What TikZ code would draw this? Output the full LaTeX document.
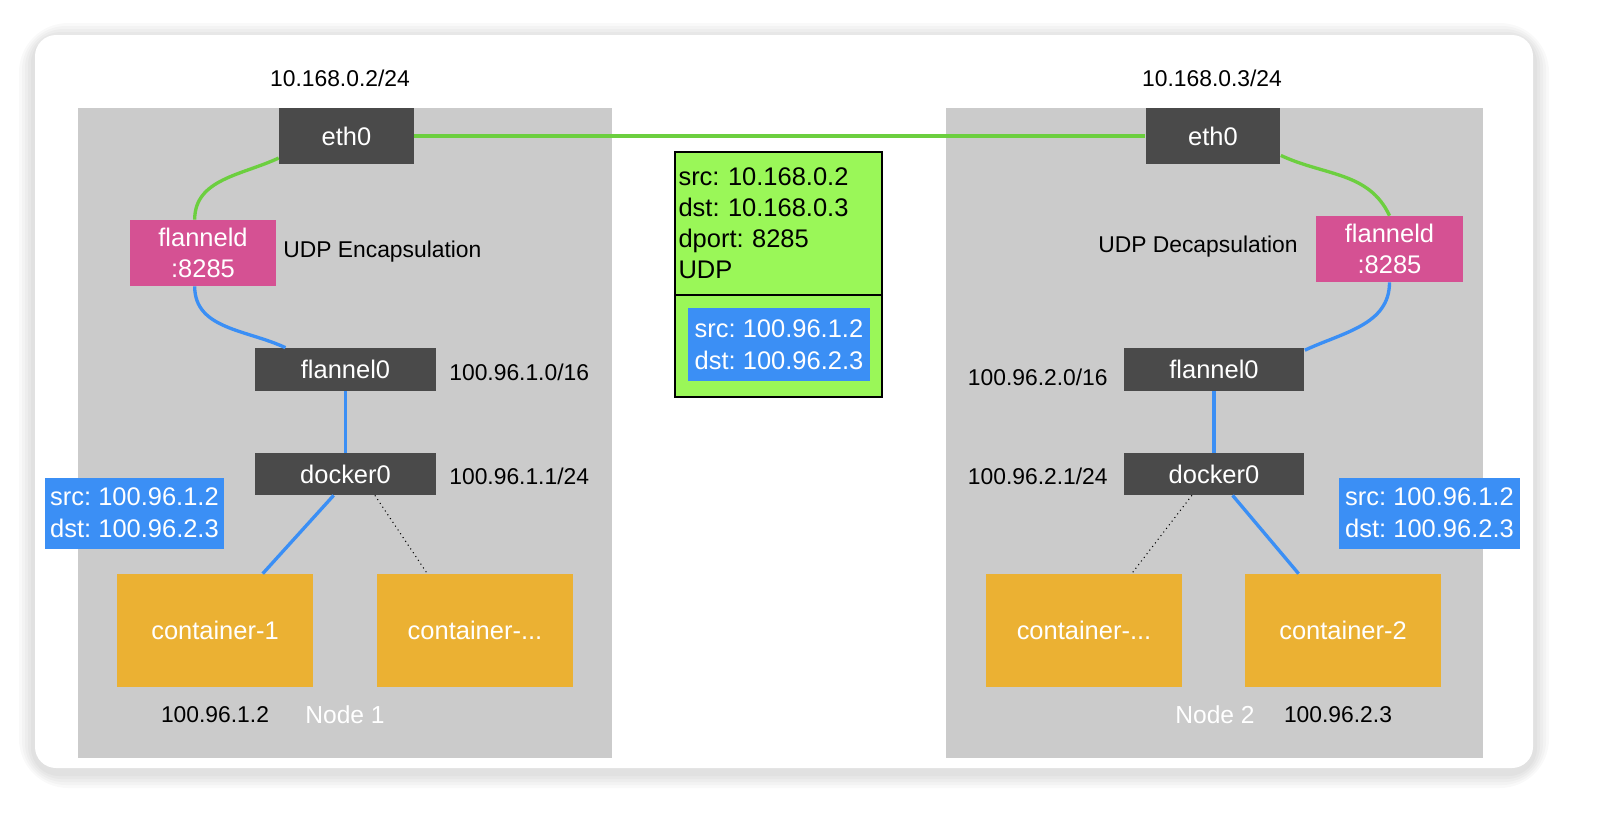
\documentclass[tikz,border=0pt]{standalone}
\usepackage{fontspec}
\setmainfont{Liberation Sans}
\frenchspacing
\definecolor{panelgray}{HTML}{CBCBCB}
\definecolor{devgray}{HTML}{4A4A4A}
\definecolor{fldpink}{HTML}{D55193}
\definecolor{ctrorange}{HTML}{EBB133}
\definecolor{pktblue}{HTML}{3B8FF5}
\definecolor{lnkgreen}{HTML}{6CCF3F}
\definecolor{hdrgreen}{HTML}{9AF758}
\tikzset{%
    dev/.style={rectangle,fill=devgray,text=white,font=\fontsize{14.5}{17}\selectfont,
        minimum width=3.62cm,minimum height=0.86cm,inner sep=0pt},
    fld/.style={rectangle,fill=fldpink,text=white,font=\fontsize{14.5}{17.5}\selectfont,
        align=center,minimum width=2.92cm,minimum height=1.32cm,inner sep=0pt},
    ctr/.style={rectangle,fill=ctrorange,text=white,font=\fontsize{14.5}{17}\selectfont,
        minimum width=3.92cm,minimum height=2.26cm,inner sep=0pt},
    pkt/.style={rectangle,fill=pktblue,text=white,font=\fontsize{14.5}{18}\selectfont,
        align=left,minimum width=3.6cm,minimum height=1.42cm,inner sep=0pt},
    lbl/.style={font=\fontsize{13}{15}\selectfont,inner sep=0pt},
    lnk/.style={line width=1.9pt,draw=lnkgreen},
    tun/.style={line width=1.9pt,draw=pktblue},
    dots/.style={line width=0.6pt,dotted}
}

\begin{document}
\begin{tikzpicture}[x=0.02cm,y=-0.02cm]
    \useasboundingbox (0,0) rectangle (1610,826);
    \fill[white] (0,0) rectangle (1610,826);
    % soft shadow of the card
    \foreach \s in {16,13,10,7,4}
        \fill[black,opacity=0.025,rounded corners=12+\s] (35-\s,35-\s+4) rectangle (1533+\s,768+\s+4);
    \fill[white,rounded corners=12] (35,35) rectangle (1533,768);
    % hosts
    \fill[panelgray] (78,108) rectangle (612,758);
    \fill[panelgray] (946,108) rectangle (1483,758);
    % node 1
    \node[dev,minimum width=2.7cm,minimum height=1.12cm] (eth0L) at (346.5,136) {eth0};
    \node[fld] (fldL) at (203,253) {flanneld\\:8285};
    \node[dev] (fl0L) at (345.5,369.5) {flannel0};
    \node[dev,minimum height=0.84cm] (dk0L) at (345.5,474) {docker0};
    \node[ctr] (c1) at (215,630.5) {container-1};
    \node[ctr] (cxL) at (475,630.5) {container-...};
    \node[pkt,minimum width=3.58cm] (pktL) at (134.5,513) {src: 100.96.1.2\\dst: 100.96.2.3};
    \node[lbl] (ipL) at (340,78) {10.168.0.2/24};
    \node[lbl,anchor=west] (encap) at (283,252) {UDP Encapsulation};
    \node[lbl,anchor=west] (netL) at (449,372) {100.96.1.0/16};
    \node[lbl,anchor=west] (brL) at (449,476) {100.96.1.1/24};
    \node[lbl] (c1ip) at (215,715) {100.96.1.2};
    \node[lbl,text=white,font=\fontsize{14}{16}\selectfont] (host1) at (345,715) {Node 1};
    % node 2
    \node[dev,minimum width=2.7cm,minimum height=1.12cm] (eth0R) at (1213,136) {eth0};
    \node[fld,minimum width=2.94cm] (fldR) at (1389.5,249) {flanneld\\:8285};
    \node[dev] (fl0R) at (1214,369.5) {flannel0};
    \node[dev,minimum height=0.84cm] (dk0R) at (1214,474) {docker0};
    \node[ctr] (cxR) at (1084,630.5) {container-...};
    \node[ctr] (c2) at (1343,630.5) {container-2};
    \node[pkt,minimum width=3.62cm] (pktR) at (1429.5,513) {src: 100.96.1.2\\dst: 100.96.2.3};
    \node[lbl] (ipR) at (1212,78) {10.168.0.3/24};
    \node[lbl,anchor=east] (decap) at (1298,247) {UDP Decapsulation};
    \node[lbl,anchor=east] (netR) at (1108,377) {100.96.2.0/16};
    \node[lbl,anchor=east] (brR) at (1108,476) {100.96.2.1/24};
    \node[lbl] (c2ip) at (1338,715) {100.96.2.3};
    \node[lbl,text=white,font=\fontsize{14}{16}\selectfont] (host2) at (1215,715) {Node 2};
    % packet on the wire
    \node[draw=black,line width=0.8pt,fill=hdrgreen,minimum width=4.14cm,minimum height=2.86cm,
        inner xsep=2pt,inner ysep=0pt,text width=4.0cm,align=left,font=\fontsize{14.5}{17.6}\selectfont]
        (outer) at (778.5,223.5) {src: 10.168.0.2\\dst: 10.168.0.3\\dport: 8285\\UDP};
    \node[draw=black,line width=0.8pt,fill=hdrgreen,minimum width=4.14cm,minimum height=2.04cm,inner sep=0pt]
        (inner) at (778.5,346) {};
    \node[pkt,minimum width=3.64cm,minimum height=1.46cm] (pktM) at (779,344.5) {src: 100.96.1.2\\dst: 100.96.2.3};
    % links
    \draw[lnk,line width=2.3pt] (eth0L.east) -- (eth0R.west);
    \draw[lnk] (eth0L.198) to[out=205,in=90] (fldL.104);
    \draw[tun] (fldL.256) to[out=-90,in=155] (fl0L.160);
    \draw[tun] (fl0L.south) -- (dk0L.north);
    \draw[tun] (dk0L.241) -- (c1.50);
    \draw[dots] (dk0L.-36) -- (cxL.130);
    \draw[lnk] (eth0R.-16) to[out=-25,in=115] (fldR.north);
    \draw[tun] (fldR.south) to[out=-90,in=25] (fl0R.12);
    \draw[tun] (fl0R.south) -- (dk0R.north);
    \draw[tun] (dk0R.-49) -- (c2.128);
    \draw[dots] (dk0R.224) -- (cxR.50);
\end{tikzpicture}
\end{document}
